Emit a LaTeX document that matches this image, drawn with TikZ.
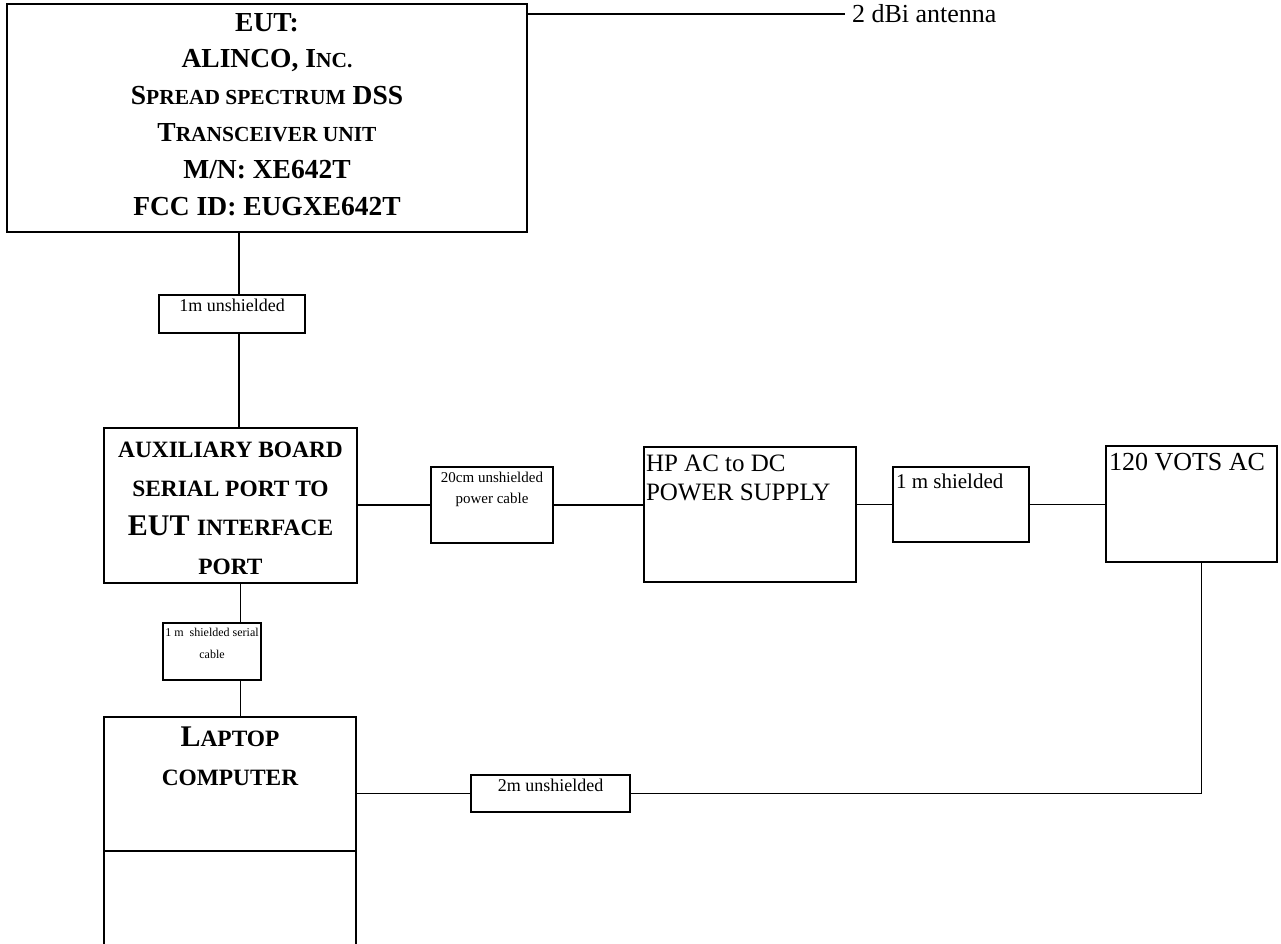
\documentclass[tikz,border=0pt]{standalone}
\usepackage{fontspec}
\setmainfont{Liberation Serif}
\usepackage{graphicx}
\usetikzlibrary{positioning}
\newcommand{\smcaps}[1]{\scalebox{0.78}{#1}}

\begin{document}
\begin{tikzpicture}[x=1pt,y=-1pt,
	every node/.style={inner sep=0pt,outer sep=0pt},
	unitbox/.style={draw,line width=1.6pt,anchor=north west},
	cablebox/.style={draw,line width=1.3pt,anchor=north west},
	wire/.style={line width=1.3pt},
	boldtext/.style={font=\bfseries\fontsize{30}{39}\selectfont,align=center},
	cabletext/.style={font=\fontsize{18}{21}\selectfont,align=center}]

\useasboundingbox (0,0) rectangle (1281,944);

% equipment boxes
\node[unitbox,minimum width=520pt,minimum height=228pt] (eut) at (7,4) {};
\node[unitbox,minimum width=253pt,minimum height=155pt] (aux) at (104,428) {};
\node[unitbox,minimum width=212pt,minimum height=135pt] (hp) at (644,447) {};
\node[unitbox,minimum width=171pt,minimum height=116pt] (acin) at (1106,446) {};
\node[unitbox,minimum width=252pt,minimum height=240pt] (laptop) at (104,717) {};
\draw[line width=1.3pt] ([yshift=-134pt]laptop.north west) -- ([yshift=-134pt]laptop.north east);

% cable boxes
\node[cablebox,minimum width=146pt,minimum height=38pt] (cabA) at (159,295) {};
\node[cablebox,minimum width=122pt,minimum height=76pt] (cabB) at (431,467) {};
\node[cablebox,minimum width=136pt,minimum height=75pt] (cabC) at (893,467) {};
\node[cablebox,minimum width=159pt,minimum height=37pt] (cabD) at (471,775) {};
\node[cablebox,minimum width=98pt,minimum height=57pt] (cabE) at (163,623) {};

% texts
\node[boldtext,font=\bfseries\fontsize{27.5}{36.8}\selectfont,below=9pt of eut.north] (euttext)
	{EUT:\\ALINCO, I\smcaps{NC.}\\S\smcaps{PREAD SPECTRUM} DSS\\T\smcaps{RANSCEIVER UNIT}\\M/N: XE642T\\FCC ID: EUGXE642T};
\node[boldtext,below=14pt of aux.north] (auxtext)
	{\smcaps{AUXILIARY BOARD}\\\smcaps{SERIAL PORT TO}\\EUT \smcaps{INTERFACE}\\\smcaps{PORT}};
\node[boldtext,below=10pt of laptop.north] (laptoptext) {L\smcaps{APTOP}\\\smcaps{COMPUTER}};
\node[font=\fontsize{25}{29}\selectfont,align=left,anchor=north west] (hptext)
	at ([xshift=2pt,yshift=-8pt]hp.north west) {HP AC to DC\\POWER SUPPLY};
\node[font=\fontsize{26}{30}\selectfont,anchor=north west] (acintext)
	at ([xshift=3pt,yshift=-7pt]acin.north west) {120 VOTS AC};
\node[font=\fontsize{21}{25}\selectfont,anchor=north west] (cabCtext)
	at ([xshift=3pt,yshift=-7pt]cabC.north west) {1 m shielded};
\node[cabletext,below=4pt of cabA.north] (cabAtext) {1m unshielded};
\node[cabletext,font=\fontsize{15}{21}\selectfont,below=5pt of cabB.north] (cabBtext) {20cm unshielded\\power cable};
\node[cabletext,below=4pt of cabD.north] (cabDtext) {2m unshielded};
\node[cabletext,font=\fontsize{12}{22}\selectfont,below=5pt of cabE.north] (cabEtext) {1 m\ \ shielded serial\\cable};
\node[font=\fontsize{26}{30}\selectfont,anchor=west,inner xsep=7pt] (ant)
	at ([xshift=318pt,yshift=-10pt]eut.north east) {2 dBi antenna};

% connecting cables
\draw[wire] ([yshift=-10pt]eut.north east) -- (ant.west);
\draw[wire] ([xshift=7pt]cabA.north |- eut.south) -- ([xshift=7pt]cabA.north);
\draw[wire] ([xshift=7pt]cabA.south) -- ([xshift=7pt]cabA.south |- aux.north);
\draw[wire] (aux.east |- cabB.west) -- (cabB.west);
\draw[line width=2.2pt] (cabB.east) -- (cabB.east -| hp.west);
\draw[wire] (cabC.west -| hp.east) -- (cabC.west);
\draw[wire] (cabC.east) -- (cabC.east -| acin.west);
\draw[wire] ([xshift=10pt]acin.south) |- (cabD.east);
\draw[wire] (cabD.west) -- (cabD.west -| laptop.east);
\draw[wire] ([xshift=10pt]aux.south) -- ([xshift=10pt]aux.south |- cabE.north);
\draw[wire] ([xshift=10pt]aux.south |- cabE.south) -- ([xshift=10pt]aux.south |- laptop.north);
\end{tikzpicture}
\end{document}
